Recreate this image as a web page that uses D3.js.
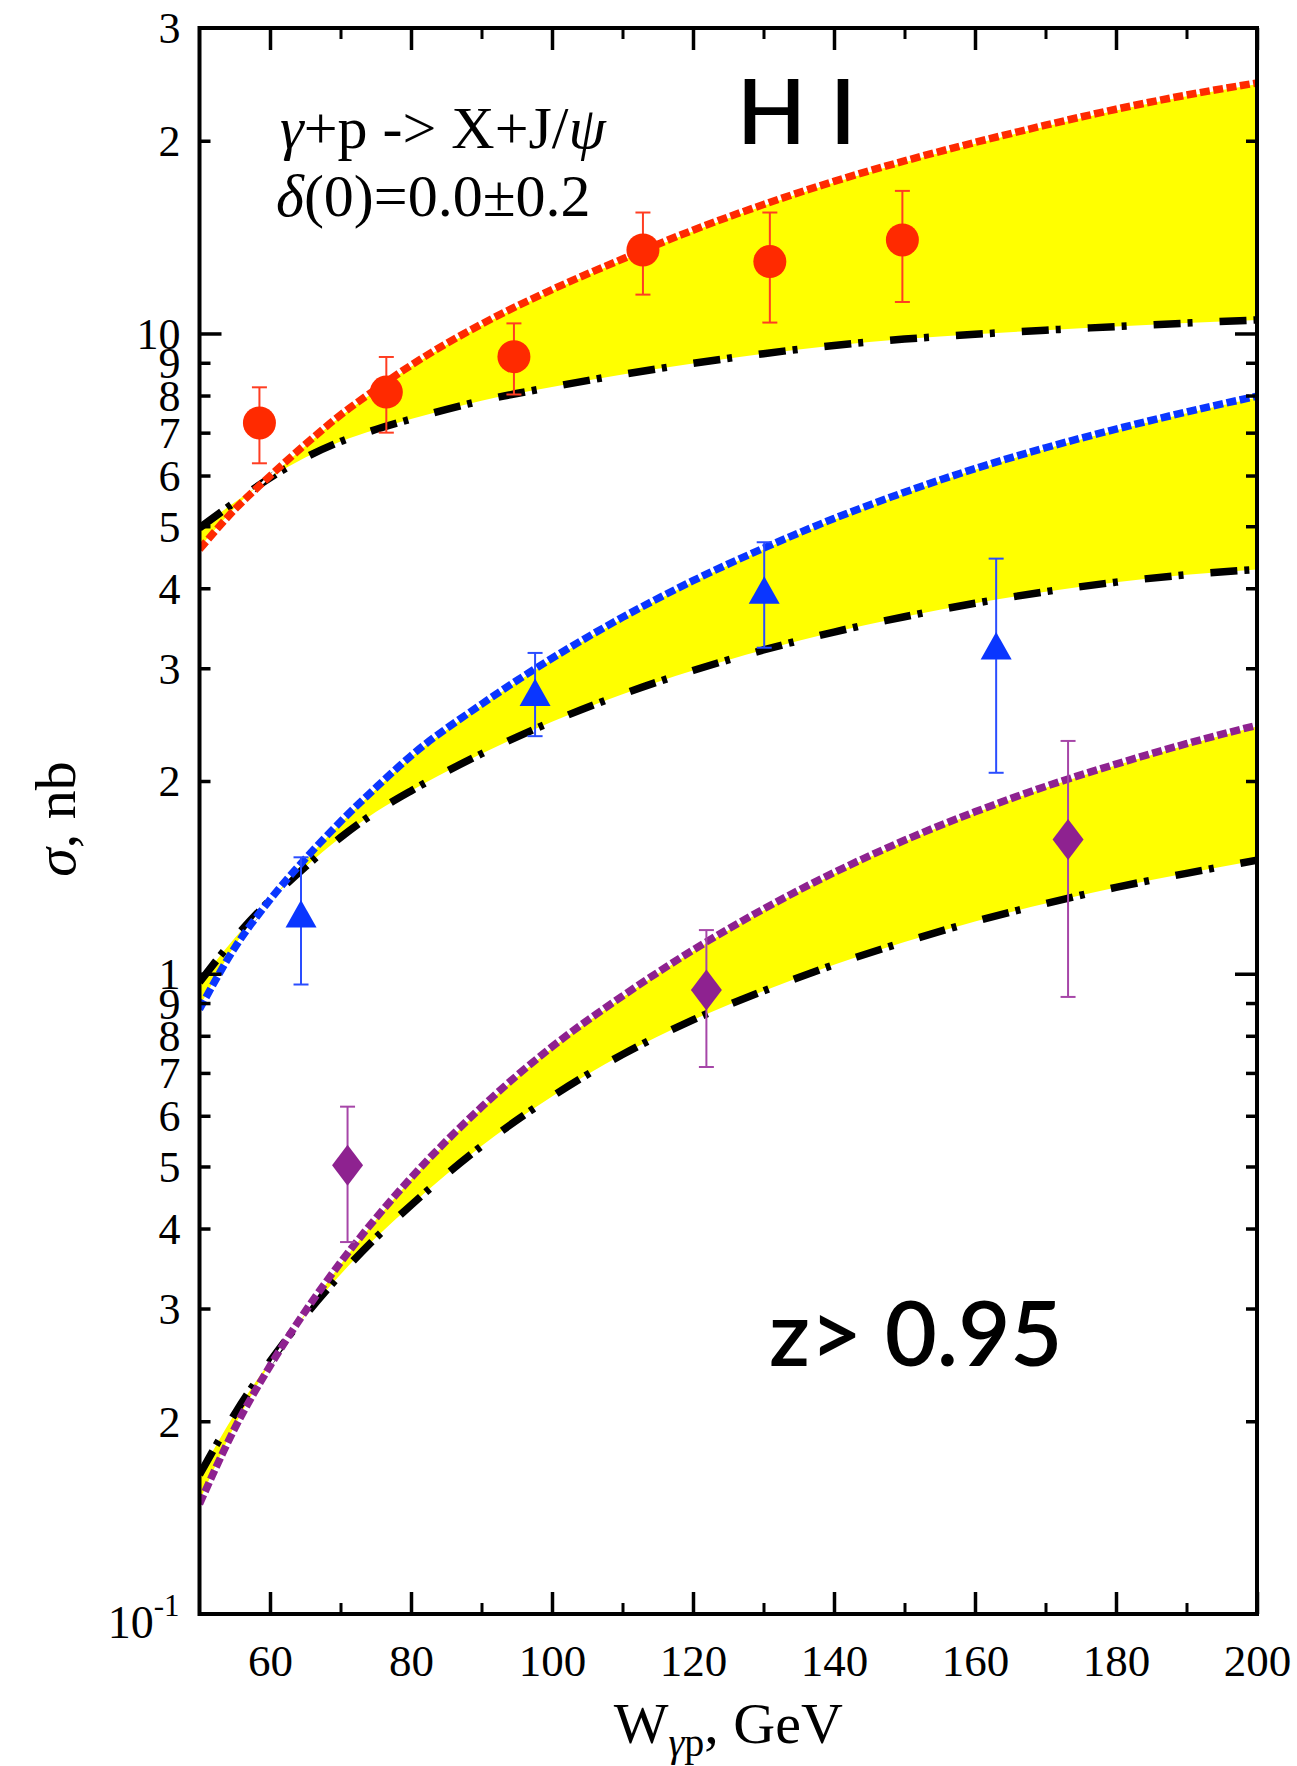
<!DOCTYPE html>
<html>
<head>
<meta charset="utf-8">
<script src="https://cdn.jsdelivr.net/npm/d3@7"></script>
<style>
  body { margin: 0; background: #fff; }
  svg { display: block; }
  .serif { font-family: "Liberation Serif", "Times New Roman", serif; }
  .sans { font-family: Lato, "Open Sans", sans-serif; }
</style>
</head>
<body>
<svg id="chart" width="1297" height="1766"></svg>
<script>
// ---- model curves, sampled on a common W grid (GeV) ----
const wGrid = [50, 55, 60, 65, 70, 75, 80, 90, 100, 110, 120, 130, 140, 150, 160, 170, 180, 190, 200];

// top band
const redUpper   = [4.6, 5.31, 5.99, 6.71, 7.46, 8.18, 8.92, 10.34, 11.71, 13.07, 14.5, 15.9, 17.28, 18.6, 19.88, 21.15, 22.4, 23.57, 24.62];
const redLower   = [4.97, 5.45, 5.95, 6.4, 6.78, 7.08, 7.35, 7.85, 8.25, 8.63, 8.98, 9.3, 9.58, 9.8, 9.97, 10.12, 10.25, 10.38, 10.5];
// middle band
const blueUpper  = [0.88, 1.098, 1.305, 1.512, 1.728, 1.952, 2.19, 2.636, 3.11, 3.603, 4.11, 4.62, 5.14, 5.65, 6.15, 6.63, 7.09, 7.54, 7.98];
const blueLower  = [0.97, 1.137, 1.303, 1.468, 1.632, 1.789, 1.93, 2.206, 2.476, 2.733, 2.976, 3.204, 3.417, 3.611, 3.79, 3.951, 4.089, 4.199, 4.28];
// bottom band
const purpleUpper = [0.1485, 0.195, 0.244, 0.297, 0.354, 0.415, 0.48, 0.619, 0.769, 0.923, 1.089, 1.262, 1.439, 1.616, 1.79, 1.961, 2.125, 2.287, 2.444];
const purpleLower = [0.165, 0.2054, 0.248, 0.2927, 0.339, 0.3868, 0.435, 0.538, 0.643, 0.748, 0.847, 0.94, 1.033, 1.121, 1.207, 1.287, 1.364, 1.435, 1.504];

// ---- measured cross sections ----
const redW     = [58.5, 76.5, 94.6, 112.9, 130.9, 149.7];
const redSigma = [7.25, 8.1, 9.2, 13.5, 12.95, 14.0];
const redLo    = [6.27, 7.0, 8.03, 11.5, 10.4, 11.2];
const redHi    = [8.24, 9.19, 10.37, 15.45, 15.45, 16.7];

const blueW     = [64.4, 97.6, 130.1, 163.0];
const blueSigma = [1.24, 2.75, 3.97, 3.25];
const blueLo    = [0.962, 2.35, 3.23, 2.06];
const blueHi    = [1.52, 3.17, 4.72, 4.45];

const purpleW     = [71.0, 121.9, 173.2];
const purpleSigma = [0.502, 0.943, 1.62];
const purpleLo    = [0.381, 0.715, 0.92];
const purpleHi    = [0.62, 1.17, 2.31];

// ---- axis ticks and labels ----
const xMajorTicks = [60, 80, 100, 120, 140, 160, 180, 200];
const xMinorTicks = [70, 90, 110, 130, 150, 170, 190];
const yMajorTicks = [1, 10];
const yMinorTicks = [0.2, 0.3, 0.4, 0.5, 0.6, 0.7, 0.8, 0.9, 2, 3, 4, 5, 6, 7, 8, 9, 20];
const yLabelValues = [0.2, 0.3, 0.4, 0.5, 0.6, 0.7, 0.8, 0.9, 1, 2, 3, 4, 5, 6, 7, 8, 9, 10, 20, 30];
const yLabelTexts  = ["2", "3", "4", "5", "6", "7", "8", "9", "1", "2", "3", "4", "5", "6", "7", "8", "9", "10", "2", "3"];

const YELLOW = "#ffff00", RED = "#ff2a00", BLUE = "#0a36ff", PURPLE = "#8e2290";

const svg = d3.select("#chart");
const X0 = 199.5, X1 = 1257, YB = 1614, YT = 28;
const x = d3.scaleLinear().domain([50, 200]).range([X0, X1]);
const y = d3.scaleLog().domain([0.1, 30]).range([YB, YT]);

svg.append("defs").append("clipPath").attr("id", "plotArea")
  .append("rect").attr("x", X0).attr("y", YT).attr("width", X1 - X0).attr("height", YB - YT);

const plot = svg.append("g").attr("clip-path", "url(#plotArea)");

const bands = [
  { upper: redUpper, lower: redLower, color: RED },
  { upper: blueUpper, lower: blueLower, color: BLUE },
  { upper: purpleUpper, lower: purpleLower, color: PURPLE }
];

const area = d3.area().x(d => x(d.w)).y0(d => y(d.lo)).y1(d => y(d.hi)).curve(d3.curveMonotoneX);
const lineLo = d3.line().x(d => x(d.w)).y(d => y(d.lo)).curve(d3.curveMonotoneX);
const lineHi = d3.line().x(d => x(d.w)).y(d => y(d.hi)).curve(d3.curveMonotoneX);

bands.forEach(b => {
  const rows = wGrid.map((w, i) => ({ w, lo: b.lower[i], hi: b.upper[i] }));
  plot.append("path").datum(rows).attr("d", area).attr("fill", YELLOW);
  b.rows = rows;
});
// dash-dot lower curves
bands.forEach(b => {
  plot.append("path").datum(b.rows).attr("d", lineLo)
    .attr("fill", "none").attr("stroke", "#000").attr("stroke-width", 7.5)
    .attr("stroke-dasharray", "27,7,5,27");
});
// short-dashed upper curves (thin white core shows in the gaps)
bands.forEach(b => {
  plot.append("path").datum(b.rows).attr("d", lineHi)
    .attr("fill", "none").attr("stroke", "#fff").attr("stroke-width", 2.5);
  plot.append("path").datum(b.rows).attr("d", lineHi)
    .attr("fill", "none").attr("stroke", b.color).attr("stroke-width", 7.5)
    .attr("stroke-dasharray", "10,3.5");
});

// ---- data points with error bars ----
const datasets = [
  { w: redW, s: redSigma, lo: redLo, hi: redHi, color: RED, bar: "#ff3d22", shape: "circle" },
  { w: blueW, s: blueSigma, lo: blueLo, hi: blueHi, color: BLUE, bar: "#2a4dff", shape: "triangle" },
  { w: purpleW, s: purpleSigma, lo: purpleLo, hi: purpleHi, color: PURPLE, bar: "#a646a8", shape: "diamond" }
];

const pts = svg.append("g");
datasets.forEach(ds => {
  const rows = ds.w.map((w, i) => ({ w, s: ds.s[i], lo: ds.lo[i], hi: ds.hi[i] }));
  const g = pts.append("g");
  const eb = g.selectAll(".eb").data(rows).enter().append("g")
    .attr("stroke", ds.bar).attr("stroke-width", 2).attr("fill", "none");
  eb.append("line").attr("x1", d => x(d.w)).attr("x2", d => x(d.w))
    .attr("y1", d => y(d.hi)).attr("y2", d => y(d.lo));
  eb.append("line").attr("x1", d => x(d.w) - 7.5).attr("x2", d => x(d.w) + 7.5)
    .attr("y1", d => y(d.hi)).attr("y2", d => y(d.hi));
  eb.append("line").attr("x1", d => x(d.w) - 7.5).attr("x2", d => x(d.w) + 7.5)
    .attr("y1", d => y(d.lo)).attr("y2", d => y(d.lo));

  if (ds.shape === "circle") {
    g.selectAll(".m").data(rows).enter().append("circle")
      .attr("cx", d => x(d.w)).attr("cy", d => y(d.s)).attr("r", 16.5).attr("fill", ds.color);
  } else {
    const shapePath = ds.shape === "triangle"
      ? "M0,-14L15.5,13.5L-15.5,13.5Z"
      : "M0,-20.5L15.5,0L0,20.5L-15.5,0Z";
    g.selectAll(".m").data(rows).enter().append("path")
      .attr("transform", d => `translate(${x(d.w)},${y(d.s)})`)
      .attr("d", shapePath).attr("fill", ds.color);
  }
});

// ---- axes: inward ticks on all four sides ----
function styleTicks(sel, w) {
  sel.select(".domain").remove();
  sel.selectAll(".tick line").attr("stroke", "#000").attr("stroke-width", w);
}
const axes = svg.append("g");
axes.append("g").attr("transform", `translate(0,${YB})`)
  .call(d3.axisBottom(x).tickValues(xMajorTicks).tickSizeInner(-22).tickSizeOuter(0).tickPadding(30).tickFormat(d3.format("d")))
  .call(s => styleTicks(s, 3.5))
  .call(s => s.selectAll("text").attr("class", "serif").attr("font-size", 45).attr("fill", "#000").attr("font-family", null));
axes.append("g").attr("transform", `translate(0,${YB})`)
  .call(d3.axisBottom(x).tickValues(xMinorTicks).tickSizeInner(-11).tickSizeOuter(0).tickFormat(""))
  .call(s => styleTicks(s, 3));
axes.append("g").attr("transform", `translate(0,${YT})`)
  .call(d3.axisTop(x).tickValues(xMajorTicks).tickSizeInner(-22).tickSizeOuter(0).tickFormat(""))
  .call(s => styleTicks(s, 3.5));
axes.append("g").attr("transform", `translate(0,${YT})`)
  .call(d3.axisTop(x).tickValues(xMinorTicks).tickSizeInner(-11).tickSizeOuter(0).tickFormat(""))
  .call(s => styleTicks(s, 3));

[[X0, d3.axisLeft], [X1, d3.axisRight]].forEach(([pos, mk]) => {
  axes.append("g").attr("transform", `translate(${pos},0)`)
    .call(mk(y).tickValues(yMajorTicks).tickSizeInner(-22).tickSizeOuter(0).tickFormat(""))
    .call(s => styleTicks(s, 3.5));
  axes.append("g").attr("transform", `translate(${pos},0)`)
    .call(mk(y).tickValues(yMinorTicks).tickSizeInner(-11).tickSizeOuter(0).tickFormat(""))
    .call(s => styleTicks(s, 3.5));
});

// y tick labels (mantissas per decade)
const yLab = axes.append("g").attr("transform", `translate(${X0},0)`)
  .call(d3.axisLeft(y).tickValues(yLabelValues).tickSize(0).tickPadding(19)
    .tickFormat((d, i) => yLabelTexts[i]));
yLab.select(".domain").remove();
yLab.selectAll("text").attr("class", "serif").attr("font-family", null)
  .attr("font-size", 44).attr("fill", "#000").attr("dy", "0.34em");

// 10^-1 at the bottom of the axis
const pow = axes.append("text").attr("class", "serif")
  .attr("x", X0 - 20).attr("y", y(0.1) + 24).attr("text-anchor", "end")
  .attr("font-size", 46).attr("fill", "#000");
pow.append("tspan").text("10");
pow.append("tspan").attr("font-size", 31).attr("dy", -22).text("-1");

// frame
svg.append("rect").attr("x", X0).attr("y", YT).attr("width", X1 - X0).attr("height", YB - YT)
  .attr("fill", "none").attr("stroke", "#000").attr("stroke-width", 4);

// ---- axis titles ----
const xt = svg.append("text").attr("class", "serif").attr("x", (X0 + X1) / 2).attr("y", 1743)
  .attr("text-anchor", "middle").attr("font-size", 58).attr("fill", "#000");
xt.append("tspan").text("W");
xt.append("tspan").attr("font-size", 40).attr("dy", 13).attr("font-style", "italic").text("γ");
xt.append("tspan").attr("font-size", 40).text("p");
xt.append("tspan").attr("dy", -13).text(", GeV");

const yt = svg.append("text").attr("class", "serif")
  .attr("transform", "translate(75,819) rotate(-90)")
  .attr("text-anchor", "middle").attr("font-size", 58).attr("fill", "#000");
yt.append("tspan").attr("font-style", "italic").text("σ");
yt.append("tspan").text(", nb");

// ---- annotations ----
const t1 = svg.append("text").attr("class", "serif").attr("x", 280).attr("y", 148)
  .attr("font-size", 60).attr("fill", "#000");
t1.append("tspan").attr("font-style", "italic").text("γ");
t1.append("tspan").text("+p -> X+J/");
t1.append("tspan").attr("font-style", "italic").text("ψ");

const t2 = svg.append("text").attr("class", "serif").attr("x", 276).attr("y", 216)
  .attr("font-size", 60).attr("fill", "#000");
t2.append("tspan").attr("font-style", "italic").text("δ");
t2.append("tspan").text("(0)=0.0±0.2");

svg.append("text").attr("class", "sans").attr("x", 737).attr("y", 144)
  .attr("font-size", 90).attr("font-weight", 600).attr("letter-spacing", 24)
  .attr("fill", "#000").text("HI");

svg.append("text").attr("class", "sans").attr("x", 769).attr("y", 1366)
  .attr("font-size", 90).attr("font-weight", 600).attr("fill", "#000").text("z> 0.95");
</script>
</body>
</html>
